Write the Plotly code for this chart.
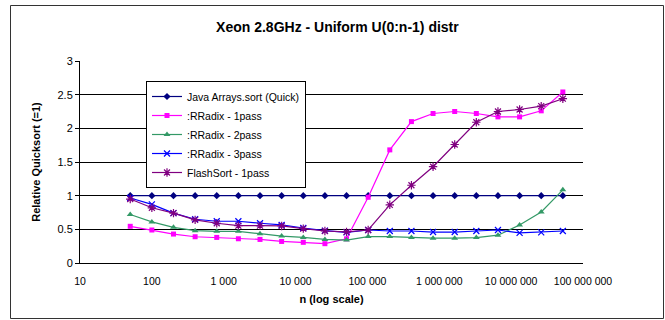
import plotly.graph_objects as go

n_values = [50, 100, 200, 400, 800, 1600, 3200, 6400, 12800, 25600, 51200,
            102400, 204800, 409600, 819200, 1638400, 3276800, 6553600,
            13107200, 26214400, 52428800]

java_quick = [1.0] * 21
rradix_1pass = [0.545, 0.49, 0.43, 0.39, 0.38, 0.36, 0.35, 0.32, 0.307, 0.287,
                0.359, 0.976, 1.68, 2.10, 2.22, 2.25, 2.22, 2.17, 2.17, 2.26, 2.54]
rradix_2pass = [0.72, 0.61, 0.53, 0.48, 0.47, 0.47, 0.435, 0.40, 0.38, 0.35,
                0.34, 0.393, 0.393, 0.378, 0.369, 0.369, 0.378, 0.413, 0.563, 0.757, 1.087]
rradix_3pass = [0.965, 0.87, 0.74, 0.65, 0.62, 0.62, 0.59, 0.565, 0.52, 0.48,
                0.456, 0.49, 0.475, 0.475, 0.46, 0.46, 0.475, 0.49, 0.447, 0.456, 0.475]
flashsort_1pass = [0.95, 0.82, 0.74, 0.64, 0.59, 0.555, 0.555, 0.55, 0.51, 0.475,
                   0.461, 0.49, 0.864, 1.155, 1.43, 1.76, 2.09, 2.25, 2.28, 2.33, 2.44]

x_tick_vals = [10, 100, 1000, 10000, 100000, 1000000, 10000000, 100000000]
x_tick_text = ["10", "100", "1 000", "10 000", "100 000", "1 000 000",
               "10 000 000", "100 000 000"]

title_text = "Xeon 2.8GHz - Uniform U(0:n-1) distr"
x_title = "n (log scale)"
y_title = "Relative Quicksort (=1)"

FONT = "Liberation Sans, Arial, sans-serif"
W, H = 665, 320
ML, MR, MT, MB = 80, 82, 61, 57
PW, PH = W - ML - MR, H - MT - MB


def px_to_paper_x(px):
    return (px - ML) / PW


def px_to_paper_y(py):
    return (H - MB - py) / PH


series = [
    ("Java Arrays.sort (Quick)", java_quick, "#000080", "diamond", 5.5, None),
    (":RRadix - 1pass", rradix_1pass, "#FF00FF", "square", 5, None),
    (":RRadix - 2pass", rradix_2pass, "#339966", "triangle-up", 6, None),
    (":RRadix - 3pass", rradix_3pass, "#0000FF", "x-thin-open", 6, 1.2),
    ("FlashSort - 1pass", flashsort_1pass, "#800080", "asterisk-open", 7, 1.2),
]

fig = go.Figure()
for name, vals, color, symbol, size, lw in series:
    marker = dict(symbol=symbol, size=size, color=color)
    if lw is not None:
        marker["line"] = dict(color=color, width=lw)
    else:
        marker["line"] = dict(width=0)
    fig.add_trace(go.Scatter(
        x=n_values, y=vals, name=name, mode="lines+markers",
        line=dict(color=color, width=1.2), marker=marker,
        hoverinfo="skip"))

fig.update_layout(
    width=W, height=H,
    margin=dict(l=ML, r=MR, t=MT, b=MB, pad=0),
    paper_bgcolor="white", plot_bgcolor="white",
    font=dict(family=FONT, size=11, color="black"),
    title=dict(text="<b>" + title_text + "</b>", x=337.4 / W, xref="container",
               xanchor="center", y=1 - 27 / H, yref="container", yanchor="middle",
               font=dict(size=14, family=FONT, color="black")),
    showlegend=True,
    legend=dict(x=px_to_paper_x(146), y=px_to_paper_y(81), xanchor="left",
                yanchor="top", bgcolor="white", bordercolor="black",
                borderwidth=1, font=dict(size=10.5, family=FONT),
                itemwidth=30, tracegroupgap=0),
    xaxis=dict(type="log", range=[1, 8], tickvals=x_tick_vals,
               ticktext=x_tick_text, showgrid=False, zeroline=False,
               showline=True, linecolor="black", linewidth=1,
               ticks="", ticklabelstandoff=8,
               tickfont=dict(size=10.5, family=FONT),
               title=dict(text="<b>" + x_title + "</b>", standoff=9,
                          font=dict(size=11, family=FONT))),
    yaxis=dict(range=[0, 3], dtick=0.5, tick0=0, showgrid=True,
               gridcolor="black", gridwidth=1, zeroline=False,
               showline=True, linecolor="black", linewidth=1,
               ticks="outside", ticklen=4, tickcolor="black",
               tickfont=dict(size=11, family=FONT),
               title=dict(text="<b>" + y_title + "</b>", standoff=14,
                          font=dict(size=11, family=FONT))),
    shapes=[dict(type="rect", xref="paper", yref="paper",
                 x0=px_to_paper_x(10.5), x1=px_to_paper_x(663.5),
                 y0=px_to_paper_y(318.5), y1=px_to_paper_y(5.5),
                 line=dict(color="#333333", width=1), layer="below")],
)

fig.write_html("out.html", config={"displayModeBar": False})
